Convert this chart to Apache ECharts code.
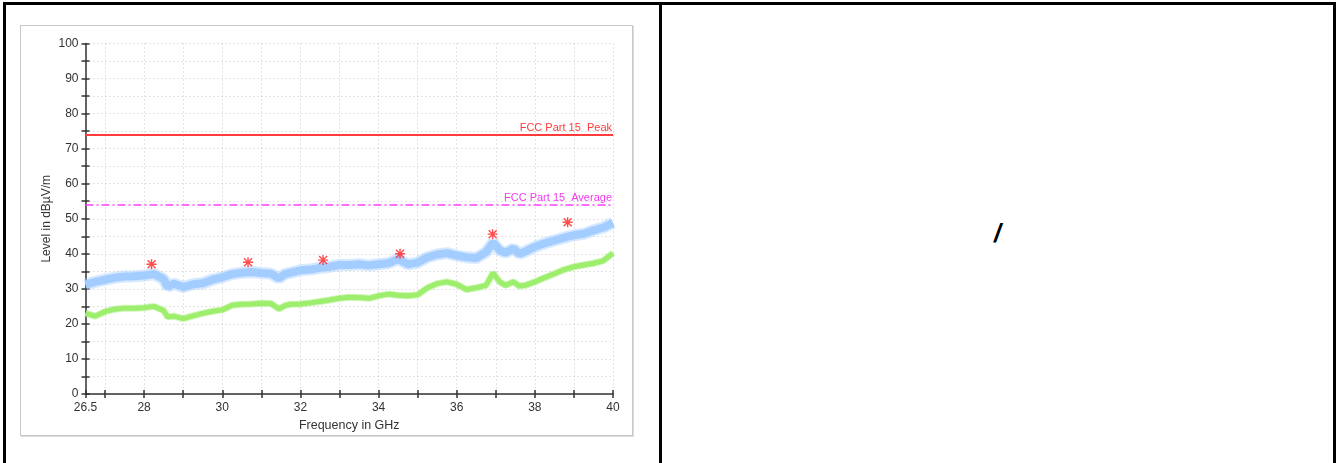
<!DOCTYPE html>
<html>
<head>
<meta charset="utf-8">
<script src="https://cdn.jsdelivr.net/npm/echarts@6/dist/echarts.min.js"></script>
<style>
  html, body { margin: 0; padding: 0; background: #fff; }
  body { width: 1336px; height: 463px; overflow: hidden; position: relative; font-family: "Liberation Sans", Arial, sans-serif; }
  #frame { position: absolute; left: 3px; top: 2px; width: 1333px; height: 700px; border: 3px solid #000; box-sizing: border-box; }
  #divider { position: absolute; left: 659px; top: 2px; width: 3px; height: 700px; background: #000; }
  #box { position: absolute; left: 20px; top: 25px; width: 613px; height: 411px; border: 1px solid #c8c8c8; box-shadow: 1px 1px 0 #dcdcdc; box-sizing: border-box; background: #fff; }
  #slash { position: absolute; left: 662px; width: 671px; top: 218px; line-height: 30px; font-size: 25px; font-weight: bold; font-style: italic; text-align: center; color: #000; }
  #chart { position: absolute; left: 0; top: 0; width: 1336px; height: 463px; z-index: 2; }
</style>
</head>
<body>
<div id="frame"></div>
<div id="divider"></div>
<div id="box"></div>
<div id="slash">/</div>
<div id="chart"></div>
<script>
// ---- data ----
const xLabelValues = [26.5, 28, 30, 32, 34, 36, 38, 40];
const traceFreq = [26.5, 26.75, 27.0, 27.25, 27.5, 27.75, 28.0, 28.25, 28.5, 28.6, 28.75, 29.0, 29.25, 29.5, 29.75,
  30.0, 30.25, 30.5, 30.75, 31.0, 31.25, 31.45, 31.6, 31.75, 32.0, 32.25, 32.5, 32.75, 33.0, 33.25, 33.5, 33.75,
  34.0, 34.25, 34.5, 34.75, 35.0, 35.25, 35.5, 35.75, 36.0, 36.25, 36.5, 36.75, 36.93, 37.1, 37.25, 37.45, 37.6,
  37.75, 38.0, 38.25, 38.5, 38.75, 39.0, 39.25, 39.5, 39.75, 40.0];
const peakTrace = [31.2, 32.0, 32.6, 33.2, 33.5, 33.6, 33.8, 34.2, 32.8, 30.5, 31.5, 30.5, 31.3, 31.6, 32.6,
  33.3, 34.2, 34.6, 34.8, 34.5, 34.3, 33.0, 34.2, 34.6, 35.3, 35.5, 36.0, 36.3, 36.8, 36.8, 37.0, 36.7,
  37.0, 37.3, 38.5, 37.0, 37.5, 39.0, 39.8, 40.2, 39.5, 39.0, 38.8, 40.5, 43.2, 41.0, 40.3, 41.5, 40.0,
  40.6, 42.0, 43.0, 43.8, 44.6, 45.3, 45.7, 46.7, 47.5, 48.8];
const avgTrace = [23.0, 22.2, 23.5, 24.2, 24.5, 24.5, 24.6, 25.0, 23.8, 22.0, 22.2, 21.5, 22.3, 23.0, 23.6,
  24.0, 25.3, 25.6, 25.7, 25.9, 25.8, 24.3, 25.2, 25.6, 25.7, 26.0, 26.4, 26.8, 27.3, 27.6, 27.5, 27.3,
  28.0, 28.5, 28.2, 28.0, 28.3, 30.3, 31.5, 32.0, 31.3, 29.8, 30.3, 31.0, 34.5, 32.0, 31.0, 32.0, 30.8,
  31.0, 32.0, 33.2, 34.3, 35.5, 36.3, 36.8, 37.3, 38.0, 40.2];
const markerFreq = [28.19, 30.66, 32.58, 34.55, 36.92, 38.84];
const markerLevel = [37.0, 37.6, 38.2, 40.0, 45.6, 49.0];
const limitPeak = 74;
const limitAverage = 54;
const limitPeakName = 'FCC Part 15  Peak';
const limitAverageName = 'FCC Part 15  Average';

const FONT = '"Liberation Sans", Arial, sans-serif';
const AX = '#333';
const zip = (a, b) => a.map((v, i) => [v, b[i]]);
const starPath = 'path://M8.6 0L11.4 0L11.4 20L8.6 20Z M0 8.6L20 8.6L20 11.4L0 11.4Z M3 1L19 17L17 19L1 3Z M17 1L19 3L3 19L1 17Z';

const chart = echarts.init(document.getElementById('chart'), null, { renderer: 'canvas' });
const gridLine = { show: true, lineStyle: { color: '#c6c6c6', width: 1, type: [1, 3] } };
chart.setOption({
  animation: false,
  backgroundColor: 'transparent',
  grid: { left: 85.5, top: 43.5, width: 527.5, height: 350.5, containLabel: false },
  xAxis: [
    {
      type: 'value', min: 26.5, max: 40, splitNumber: 14, position: 'bottom',
      axisLine: { show: true, lineStyle: { color: AX, width: 1.5 } },
      axisTick: { show: true, length: 4, lineStyle: { color: AX, width: 1.5 } },
      axisLabel: {
        margin: 8, color: AX, fontSize: 12, fontFamily: FONT, showMinLabel: true, showMaxLabel: true,
        formatter: v => xLabelValues.some(x => Math.abs(x - v) < 1e-6) ? String(v) : ''
      },
      splitLine: gridLine,
      name: 'Frequency in GHz', nameLocation: 'middle', nameGap: 24,
      nameTextStyle: { color: AX, fontSize: 12.5, fontFamily: FONT }
    },
    {
      type: 'value', min: 26.5, max: 40, splitNumber: 14, position: 'bottom',
      axisLine: { show: false },
      axisTick: { show: true, inside: true, length: 4, lineStyle: { color: AX, width: 1.5 } },
      axisLabel: { show: false }, splitLine: { show: false }
    }
  ],
  yAxis: [
    {
      type: 'value', min: 0, max: 100, interval: 5, position: 'left',
      axisLine: { show: true, lineStyle: { color: AX, width: 1.5 } },
      axisTick: { show: true, length: 4, lineStyle: { color: AX, width: 1.5 } },
      axisLabel: { margin: 7, color: AX, fontSize: 12, fontFamily: FONT, formatter: v => (v % 10 === 0 ? String(v) : '') },
      splitLine: gridLine,
      name: 'Level in dBµV/m', nameLocation: 'middle', nameGap: 33,
      nameTextStyle: { color: AX, fontSize: 12, fontFamily: FONT }
    },
    {
      type: 'value', min: 0, max: 100, interval: 5, position: 'left',
      axisLine: { show: false },
      axisTick: { show: true, inside: true, length: 4, lineStyle: { color: AX, width: 1.5 } },
      axisLabel: { show: false }, splitLine: { show: false }
    }
  ],
  series: [
    {
      name: 'Peak halo', type: 'line', data: zip(traceFreq, peakTrace),
      showSymbol: false, symbol: 'none', lineStyle: { color: '#a6cfff', width: 12, opacity: 0.45 }, z: 2, silent: true
    },
    {
      name: 'Peak', type: 'line', data: zip(traceFreq, peakTrace),
      showSymbol: false, symbol: 'none', lineStyle: { color: '#a3cdff', width: 8 }, z: 3, silent: true
    },
    {
      name: 'Average halo', type: 'line', data: zip(traceFreq, avgTrace),
      showSymbol: false, symbol: 'none', lineStyle: { color: '#a2ee74', width: 7, opacity: 0.5 }, z: 2, silent: true
    },
    {
      name: 'Average', type: 'line', data: zip(traceFreq, avgTrace),
      showSymbol: false, symbol: 'none', lineStyle: { color: '#9eee6e', width: 5 }, z: 3, silent: true
    },
    {
      name: 'Markers', type: 'scatter', data: zip(markerFreq, markerLevel),
      symbol: starPath, symbolSize: 10, itemStyle: { color: '#ff2020' }, z: 5, silent: true,
      markLine: {
        silent: true, symbol: 'none', animation: false,
        label: { position: 'insideEndTop', distance: [1, 1], fontSize: 11, fontFamily: FONT },
        data: [
          { yAxis: limitPeak, lineStyle: { color: '#ff3b3b', width: 2, type: 'solid' },
            label: { formatter: limitPeakName, color: '#ff3b3b' } },
          { yAxis: limitAverage, lineStyle: { color: '#ff40ff', width: 1.5, type: [8, 3, 2, 3] },
            label: { formatter: limitAverageName, color: '#f03cf0' } }
        ]
      }
    }
  ]
});
</script>
</body>
</html>
